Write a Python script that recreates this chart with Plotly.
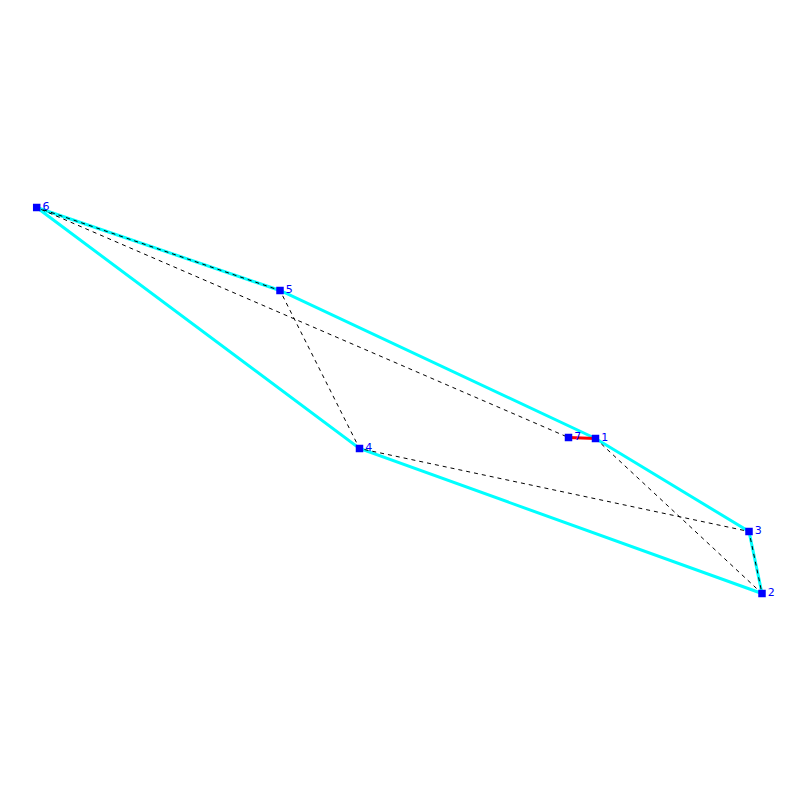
import plotly.graph_objects as go

labels = ["1", "2", "3", "4", "5", "6", "7"]
node_x = [595.5, 762, 749, 359.5, 280, 36.7, 568.5]
node_y = [438.5, 593.5, 531.5, 448.5, 290.5, 207.5, 437.5]

# edges given as node numbers
hull = [6, 5, 1, 3, 2, 4, 6]
tour = [1, 2, 3, 4, 5, 6, 7]
closing = [7, 1]


def path(nodes):
    xs = [node_x[n - 1] for n in nodes]
    ys = [node_y[n - 1] for n in nodes]
    return xs, ys


fig = go.Figure()

hull_x, hull_y = path(hull)
fig.add_trace(go.Scatter(x=hull_x, y=hull_y, mode="lines",
                         line=dict(color="#00ffff", width=3)))

tour_x, tour_y = path(tour)
fig.add_trace(go.Scatter(x=tour_x, y=tour_y, mode="lines",
                         line=dict(color="black", width=1, dash="4px,4px")))

closing_x, closing_y = path(closing)
fig.add_trace(go.Scatter(x=closing_x, y=closing_y, mode="lines",
                         line=dict(color="#ff0000", width=3)))

fig.add_trace(go.Scatter(x=node_x, y=node_y, mode="markers+text", text=labels,
                         textposition="middle right",
                         textfont=dict(family="DejaVu Sans", size=11, color="#0000ff"),
                         marker=dict(symbol="square", size=7.5, color="#0000ff")))

# the page has an 8px body margin, so the plot is 784 wide and starts at 8
fig.update_xaxes(range=[8, 792], visible=False)
fig.update_yaxes(range=[792, 8], visible=False)
fig.update_layout(width=784, height=784, margin=dict(l=0, r=0, t=0, b=0),
                  paper_bgcolor="white", plot_bgcolor="white",
                  showlegend=False, hovermode=False)

fig.write_html("out.html", config={"displayModeBar": False})
